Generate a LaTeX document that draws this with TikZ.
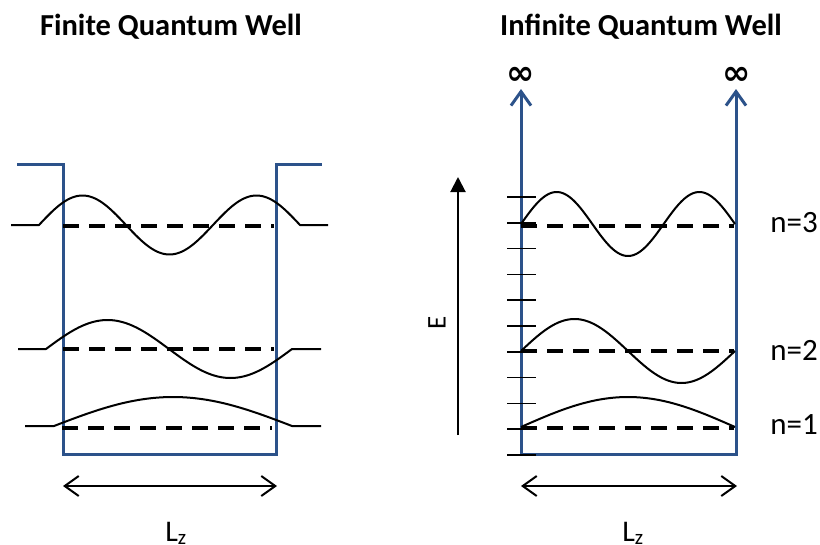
\documentclass[tikz,border=0pt]{standalone}
\usepackage{fontspec}
\setmainfont{Carlito}
\newfontfamily\symfont{DejaVu Sans}
\usetikzlibrary{arrows.meta}
\definecolor{wellblue}{RGB}{44,82,138}
\begin{document}
\begin{tikzpicture}[x=1pt,y=-1pt,
  wall/.style={draw=wellblue,line width=3pt,line join=miter},
  level/.style={draw=black,line width=4pt,dash pattern=on 16pt off 10pt},
  wave/.style={draw=black,line width=2pt,line join=round},
  tickmark/.style={draw=black,line width=1.5pt},
  title/.style={font=\bfseries\fontsize{30.5}{34}\selectfont},
  lbl/.style={font=\fontsize{31}{34}\selectfont},
  inf/.style={font=\symfont\bfseries\fontsize{34}{34}\selectfont},
  dimarrow/.style={draw=black,line width=2pt,arrows={Straight Barb[length=14pt,width=20pt]-Straight Barb[length=14pt,width=20pt]}},
  uparrow/.style={wall,arrows={Straight Barb[length=14pt,width=20pt]-Straight Barb[length=14pt,width=20pt]}}]
\useasboundingbox (0,0) rectangle (820,544);

% titles
\node[title] (t1) at (171,27) {Finite Quantum Well};
\node[title] (t2) at (641,27) {Infinite Quantum Well};

% ---------- finite well ----------
\draw[wall] (17,164) -- (63,164) -- (63,454) -- (276,454) -- (276,164) -- (322,164);
% energy levels
\draw[level] (63,226) -- (274,226);
\draw[level] (63,349) -- (274,349);
\draw[level] (62,428) -- (272,428);
% wavefunctions
\draw[wave] (11,225) -- (39,225) -- plot[domain=39:300,samples=120] (\x,{225-29.5*sin(((\x-39)/174)*360)}) -- (328,225);
\draw[wave] (18,349) -- (46,349) -- plot[domain=46:292,samples=120] (\x,{349-29*sin(((\x-46)/246)*360)}) -- (321,349);
\draw[wave] (25,426) -- (54,426) -- plot[domain=54:292,samples=100] (\x,{426-29*sin(((\x-54)/238)*180)}) -- (321,426);

% ---------- infinite well ----------
\draw[uparrow] (521,89) -- (521,454) -- (736,454) -- (736,89);
\node[inf] (infL) at (521,76) {∞};
\node[inf] (infR) at (737,76) {∞};
% ticks
\foreach \k in {0,...,10}{
  \draw[tickmark] (507,{197+25.8*\k}) -- (536,{197+25.8*\k});
}
% energy levels
\draw[level] (521,226) -- (734,226);
\draw[level] (521,351) -- (734,351);
\draw[level] (521,428) -- (734,428);
% wavefunctions
\draw[wave] plot[domain=521:735,samples=120] (\x,{224-32*sin(((\x-521)/214)*540)});
\draw[wave] plot[domain=521:735,samples=120] (\x,{351-32*sin(((\x-521)/214)*360)});
\draw[wave] plot[domain=521:735,samples=100] (\x,{427-30*sin(((\x-521)/214)*180)});
% level labels
\node[lbl] (n3) at (794,223) {n=3};
\node[lbl] (n2) at (794,350) {n=2};
\node[lbl] (n1) at (794,425) {n=1};

% energy axis
\coordinate (Ebot) at (458,435);
\coordinate (Etop) at (458,177);
\draw[line width=2pt,-{Triangle[length=15pt,width=15pt]}] (Ebot) -- (Etop);
\node[font=\fontsize{27}{27}\selectfont,rotate=90] (E) at (437,323) {E};

% width arrows
\coordinate (a1) at (63,486);
\coordinate (b1) at (277,486);
\coordinate (a2) at (521,486);
\coordinate (b2) at (737,486);
\draw[dimarrow] (a1) -- (b1);
\draw[dimarrow] (a2) -- (b2);
\node[font=\fontsize{30}{30}\selectfont,anchor=base] (L1) at (176,541) {L\textsubscript{z}};
\node[font=\fontsize{30}{30}\selectfont,anchor=base] (L2) at (633,541) {L\textsubscript{z}};
\end{tikzpicture}
\end{document}
